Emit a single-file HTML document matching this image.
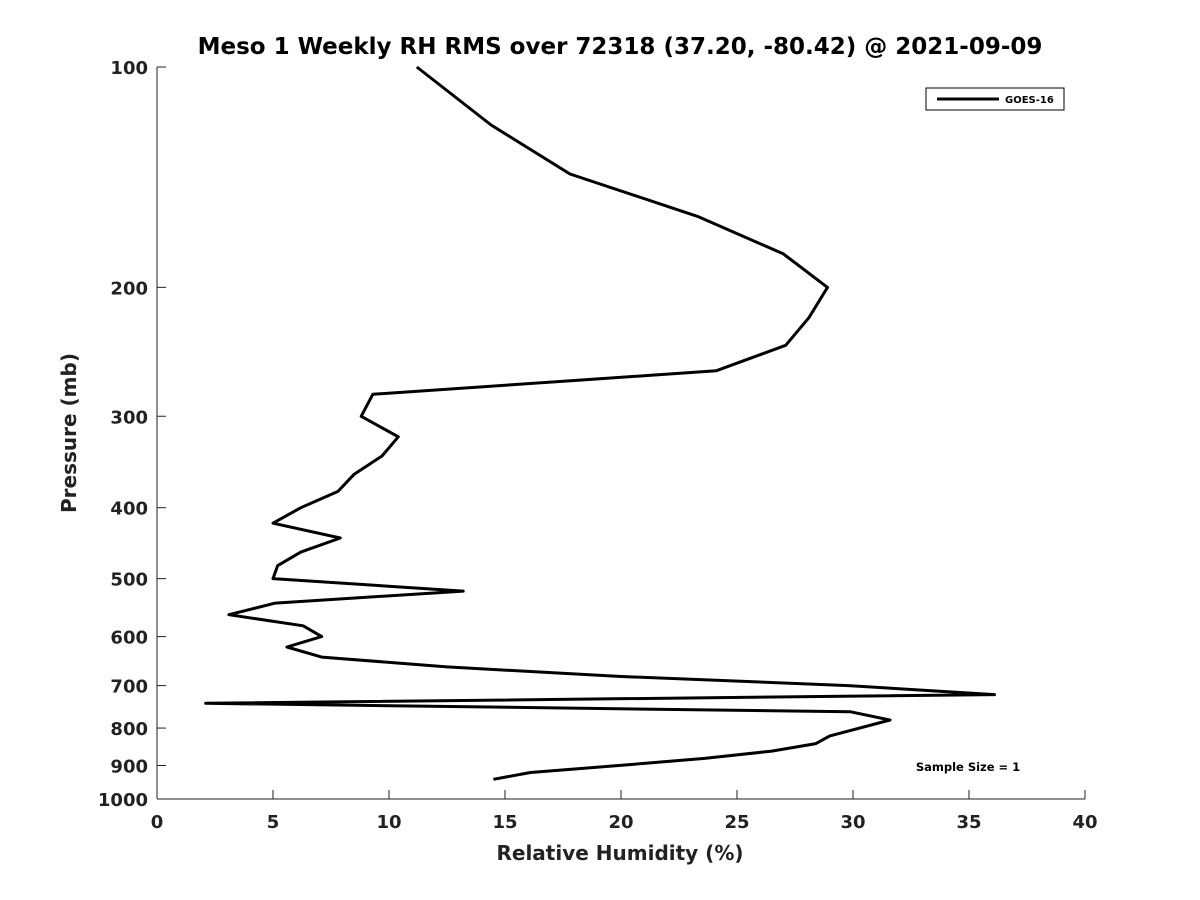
<!DOCTYPE html>
<html><head><meta charset="utf-8"><style>
html,body{margin:0;padding:0;background:#fff;}
svg{display:block;font-family:"DejaVu Sans","Liberation Sans",sans-serif;}
</style></head><body>
<svg id="chart" width="1200" height="900">
<rect width="1200" height="900" fill="#fff"/>
<text x="620" y="54" text-anchor="middle" font-size="23" font-weight="bold" fill="#000">Meso 1 Weekly RH RMS over 72318 (37.20, -80.42) @ 2021-09-09</text>
<g id="axes"></g>
<path id="series" fill="none" stroke="#000" stroke-width="3" stroke-linejoin="round"/>
<g>
<rect x="926" y="88" width="138" height="22" fill="#fff" stroke="#000" stroke-width="1"/>
<line x1="937" y1="99" x2="999" y2="99" stroke="#000" stroke-width="3"/>
<text x="1005" y="103" font-size="10" font-weight="bold">GOES-16</text>
</g>
<text x="968" y="771" text-anchor="middle" font-size="11.5" font-weight="bold">Sample Size = 1</text>
<text x="620" y="860" text-anchor="middle" font-size="20" font-weight="bold" fill="#222">Relative Humidity (%)</text>
<text transform="translate(76,433) rotate(-90)" text-anchor="middle" font-size="20" font-weight="bold" fill="#222">Pressure (mb)</text>
</svg>
<script>
const pressures = [100,120,140,160,180,200,220,240,260,280,300,320,340,360,380,400,420,440,460,480,500,520,540,560,580,600,620,640,660,680,700,720,740,760,780,820,840,860,880,900,920,940];
const rhValues = [11.2,14.4,17.8,23.3,27.0,28.9,28.1,27.1,24.1,9.3,8.8,10.4,9.7,8.5,7.8,6.2,5.0,7.9,6.2,5.2,5.0,13.2,5.1,3.1,6.3,7.1,5.6,7.1,12.5,19.9,29.8,36.1,2.1,29.9,31.6,29.0,28.4,26.5,23.6,19.9,16.1,14.5];
const xTicks = [0,5,10,15,20,25,30,35,40];
const yTicks = [100,200,300,400,500,600,700,800,900,1000];

const X0=157,X1=1085,Y0=67,Y1=799;
function xs(v){return X0+(v-0)/(40-0)*(X1-X0);}
function ys(p){return Y0+(Math.log10(p)-2)/(3-2)*(Y1-Y0);}
const NS="http://www.w3.org/2000/svg";
const axes=document.getElementById('axes');
function mk(tag,attrs){const e=document.createElementNS(NS,tag);for(const k in attrs)e.setAttribute(k,attrs[k]);return e;}

const xl=mk('line',{x1:X0,y1:Y1,x2:X1,y2:Y1,stroke:'#222','stroke-width':1});


axes.appendChild(xl);
const yl=mk('line',{x1:X0,y1:Y0,x2:X0,y2:Y1,stroke:'#222','stroke-width':1});


axes.appendChild(yl);

xTicks.forEach(t=>{
  const x=xs(t);
  const tk=mk('line',{x1:x,y1:Y1,x2:x,y2:Y1-9,stroke:'#222','stroke-width':1});
  
  
  axes.appendChild(tk);
  const tx=mk('text',{x:x,y:Y1+29,'text-anchor':'middle','font-size':18,'font-weight':'bold',fill:'#222'});
  tx.textContent=t;
  
  
  axes.appendChild(tx);
});
yTicks.forEach(t=>{
  const y=ys(t);
  const tk=mk('line',{x1:X0,y1:y,x2:X0+9,y2:y,stroke:'#222','stroke-width':1});
  
  
  axes.appendChild(tk);
  const tx=mk('text',{x:X0-9,y:y+7,'text-anchor':'end','font-size':18,'font-weight':'bold',fill:'#222'});
  tx.textContent=t;
  
  
  axes.appendChild(tx);
});

let d='';
pressures.forEach((p,i)=>{d+=(i?'L':'M')+xs(rhValues[i]).toFixed(1)+' '+ys(p).toFixed(1)+' ';});
document.getElementById('series').setAttribute('d',d);
</script>
</body></html>
